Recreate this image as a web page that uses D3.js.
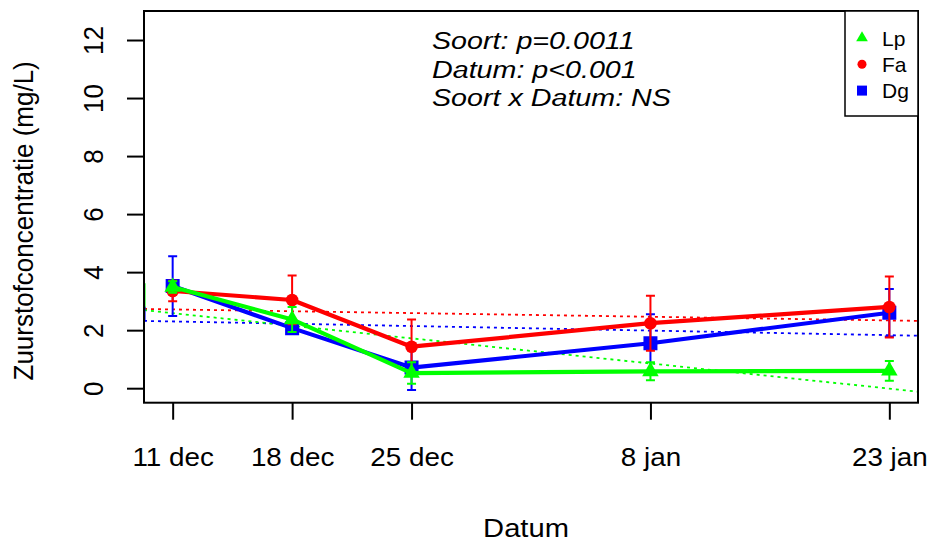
<!DOCTYPE html>
<html>
<head>
<meta charset="utf-8">
<script src="https://cdn.jsdelivr.net/npm/d3@7"></script>
<style>
  html, body { margin: 0; padding: 0; background: #fff; }
  svg { display: block; font-family: "Liberation Sans", Arial, Helvetica, sans-serif; }
</style>
</head>
<body>
<svg id="chart" width="931" height="543"></svg>
<script>
// Sampling dates (weeks since 11 dec) and their labels
const weeks = [0, 1, 2, 4, 6];
const dateLabels = ["11 dec", "18 dec", "25 dec", "8 jan", "23 jan"];
const yTicks = [0, 2, 4, 6, 8, 10, 12];

// Mean oxygen concentration (mg/L) per species, with error-bar half widths
const lpMean = [3.49, 2.37, 0.52, 0.58, 0.60];
const lpErr  = [0.20, 0.43, 0.37, 0.31, 0.34];
const faMean = [3.35, 3.04, 1.43, 2.24, 2.80];
const faErr  = [0.35, 0.84, 0.94, 0.95, 1.05];
const dgMean = [3.52, 2.07, 0.71, 1.55, 2.60];
const dgErr  = [1.03, 0.13, 0.77, 1.00, 0.82];

// Linear trends per species: value at week 0 and change per week
const lpTrend = [2.586, -0.4336];
const faTrend = [2.715, -0.0633];
const dgTrend = [2.300, -0.0787];

// Short solid trace segments at the left frame edge (from, to)
const lpEdge = [3.62, 2.75];
const dgEdge = [2.81, 2.30];

const statLines = ["Soort: p=0.0011", "Datum: p<0.001", "Soort x Datum: NS"];

const series = [
  { name: "Dg", mean: dgMean, err: dgErr, trend: dgTrend, color: "#0000ff", shape: d3.symbolSquare,   size: 196, legendSize: 100 },
  { name: "Fa", mean: faMean, err: faErr, trend: faTrend, color: "#ff0000", shape: d3.symbolCircle,   size: 125, legendSize: 64 },
  { name: "Lp", mean: lpMean, err: lpErr, trend: lpTrend, color: "#00ff00", shape: d3.symbolTriangle, size: 118, legendSize: 59 }
];
const legendOrder = ["Lp", "Fa", "Dg"];

const svg = d3.select("#chart");
const plot = { left: 144, right: 918, top: 11, bottom: 402.7 };
const stretch = 1.07;

const x = d3.scaleLinear().domain([-0.24, 6.24]).range([plot.left, plot.right]);
const y = d3.scaleLinear().domain([-0.5, 13]).range([plot.bottom, plot.top]);

svg.append("defs").append("clipPath").attr("id", "clip")
  .append("rect")
  .attr("x", plot.left).attr("y", plot.top)
  .attr("width", plot.right - plot.left).attr("height", plot.bottom - plot.top);

// Axes
const yAxis = svg.append("g")
  .attr("transform", `translate(${plot.left},0)`)
  .call(d3.axisLeft(y).tickValues(yTicks).tickSize(17).tickFormat(d3.format("d")));
yAxis.select(".domain").remove();
yAxis.selectAll(".tick line").attr("stroke", "#000").attr("stroke-width", 2);
yAxis.selectAll(".tick text")
  .attr("x", null).attr("dy", null)
  .attr("transform", `translate(-40.7,0) scale(${stretch},1) rotate(-90)`)
  .attr("text-anchor", "middle")
  .attr("fill", "#000")
  .style("font-size", "26px");

const xAxis = svg.append("g")
  .attr("transform", `translate(0,${plot.bottom})`)
  .call(d3.axisBottom(x).tickValues(weeks).tickSize(17).tickFormat((d, i) => dateLabels[i]));
xAxis.select(".domain").remove();
xAxis.selectAll(".tick line").attr("stroke", "#000").attr("stroke-width", 2);
xAxis.selectAll(".tick text")
  .attr("y", null).attr("dy", null)
  .attr("transform", `translate(0,63.3) scale(${stretch},1)`)
  .attr("text-anchor", "middle")
  .attr("fill", "#000")
  .style("font-size", "26px");

// Axis titles
svg.append("text")
  .attr("transform", `translate(${(plot.left + plot.right) / 2 - 5},537) scale(1.1,1)`)
  .attr("text-anchor", "middle")
  .style("font-size", "26.5px")
  .text("Datum");

svg.append("text")
  .attr("transform", `translate(33,${(plot.top + plot.bottom) / 2 + 14}) scale(1.09,1) rotate(-90)`)
  .attr("text-anchor", "middle")
  .style("font-size", "26px")
  .text("Zuurstofconcentratie (mg/L)");

// Plot contents
const inner = svg.append("g").attr("clip-path", "url(#clip)");

// Dotted trend lines across the full frame width
series.forEach(s => {
  const [x0, x1] = x.domain();
  const f = w => s.trend[0] + s.trend[1] * w;
  inner.append("line")
    .attr("x1", x(x0)).attr("y1", y(f(x0)))
    .attr("x2", x(x1)).attr("y2", y(f(x1)))
    .attr("stroke", s.color)
    .attr("stroke-width", 1.8)
    .attr("stroke-dasharray", "3,4");
});

// Edge traces
[[lpEdge, "#00ff00"], [dgEdge, "#0000ff"]].forEach(([e, c]) => {
  inner.append("line")
    .attr("x1", x(x.domain()[0]) + 0.8).attr("x2", x(x.domain()[0]) + 0.8)
    .attr("y1", y(e[0])).attr("y2", y(e[1]))
    .attr("stroke", c).attr("stroke-width", 1.5);
});

const line = d3.line().x((d, i) => x(weeks[i])).y(d => y(d));

series.forEach(s => {
  const g = inner.append("g");
  g.append("path")
    .datum(s.mean)
    .attr("d", line)
    .attr("fill", "none")
    .attr("stroke", s.color)
    .attr("stroke-width", 4.2)
    .attr("stroke-linejoin", "round");

  const bars = g.selectAll(".bar").data(s.mean).enter().append("g");
  bars.append("line")
    .attr("x1", (d, i) => x(weeks[i])).attr("x2", (d, i) => x(weeks[i]))
    .attr("y1", (d, i) => y(d - s.err[i])).attr("y2", (d, i) => y(d + s.err[i]))
    .attr("stroke", s.color).attr("stroke-width", 2);
  [-1, 1].forEach(sign => {
    bars.append("line")
      .attr("x1", (d, i) => x(weeks[i]) - 4.5).attr("x2", (d, i) => x(weeks[i]) + 4.5)
      .attr("y1", (d, i) => y(d + sign * s.err[i])).attr("y2", (d, i) => y(d + sign * s.err[i]))
      .attr("stroke", s.color).attr("stroke-width", 2);
  });

  g.selectAll(".pt").data(s.mean).enter().append("path")
    .attr("d", d3.symbol().type(s.shape).size(s.size))
    .attr("transform", (d, i) => `translate(${x(weeks[i])},${y(d)})`)
    .attr("fill", s.color);
});

// Frame
svg.append("rect")
  .attr("x", plot.left).attr("y", plot.top)
  .attr("width", plot.right - plot.left).attr("height", plot.bottom - plot.top)
  .attr("fill", "none").attr("stroke", "#000").attr("stroke-width", 2);

// Statistics annotation
const ann = svg.append("g");
statLines.forEach((t, i) => {
  ann.append("text")
    .attr("transform", `translate(432,${49 + i * 28.7}) scale(1.17,1)`)
    .style("font-size", "24.5px")
    .style("font-style", "italic")
    .text(t);
});

// Legend
const legend = svg.append("g");
legend.append("rect")
  .attr("x", 845).attr("y", plot.top)
  .attr("width", plot.right - 845).attr("height", 105)
  .attr("fill", "#fff").attr("stroke", "#000").attr("stroke-width", 1.5);
legendOrder.forEach((name, i) => {
  const s = series.find(d => d.name === name);
  const cy = 38 + i * 26.3;
  legend.append("path")
    .attr("d", d3.symbol().type(s.shape).size(s.legendSize))
    .attr("transform", `translate(862,${cy})`)
    .attr("fill", s.color);
  legend.append("text")
    .attr("x", 882).attr("y", cy + 7.5)
    .style("font-size", "21px")
    .text(name);
});
</script>
</body>
</html>
